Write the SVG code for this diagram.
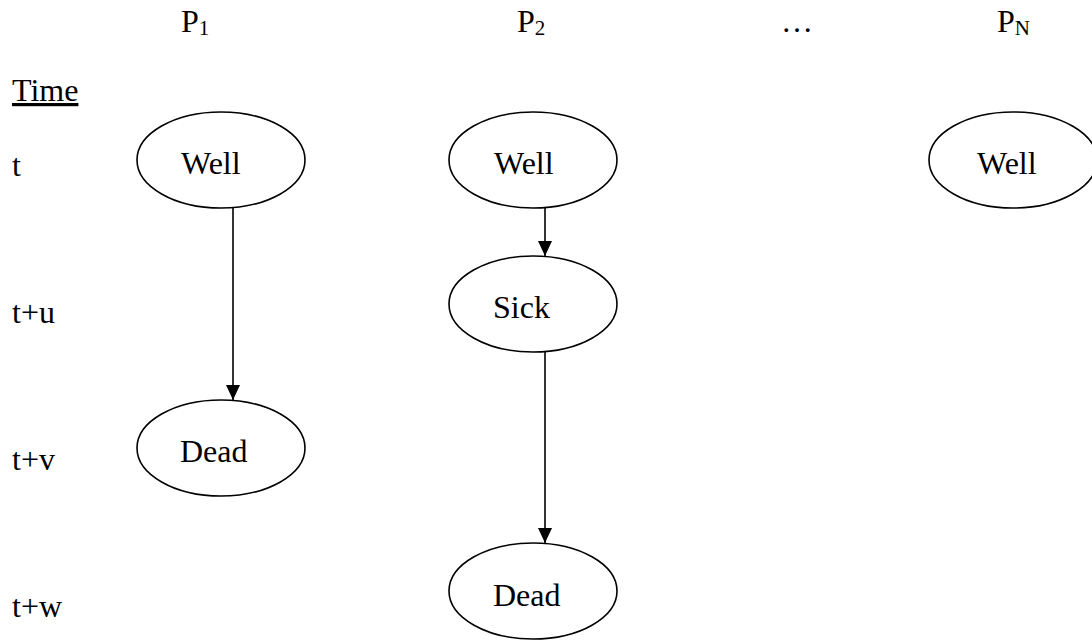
<svg xmlns="http://www.w3.org/2000/svg" width="1092" height="641" viewBox="0 0 1092 641">
  <style>
    text { font-family: "Liberation Serif", "Times New Roman", serif; font-size: 32px; fill: #000; }
    .sub { font-size: 21px; }
    .state { fill: #fff; stroke: #000; stroke-width: 1.6; }
    .edge { stroke: #000; stroke-width: 1.6; fill: none; marker-end: url(#arrow); }
  </style>
  <defs>
    <!-- solid triangular arrowhead, tip at the end of the line -->
    <marker id="arrow" markerUnits="userSpaceOnUse" markerWidth="15" markerHeight="14" refX="15" refY="7" orient="auto" viewBox="0 0 15 14">
      <path d="M0,0 L15,7 L0,14 Z" fill="#000"/>
    </marker>
  </defs>

  <!-- column headers -->
  <g id="headers">
    <text x="181" y="32">P<tspan class="sub" dy="3">1</tspan></text>
    <text x="517" y="32">P<tspan class="sub" dy="3">2</tspan></text>
    <text x="781" y="32">…</text>
    <text x="997" y="32">P<tspan class="sub" dy="3">N</tspan></text>
  </g>

  <!-- time axis labels -->
  <g id="time-axis">
    <text x="12" y="101" text-decoration="underline">Time</text>
    <text x="12" y="176">t</text>
    <text x="12" y="323">t+u</text>
    <text x="12" y="470">t+v</text>
    <text x="12" y="617">t+w</text>
  </g>

  <!-- connectors -->
  <g id="connectors">
    <line class="edge" x1="233" y1="208" x2="233" y2="400"/>
    <line class="edge" x1="545" y1="208" x2="545" y2="256"/>
    <line class="edge" x1="545" y1="352" x2="545" y2="543"/>
  </g>

  <g id="p1-well">
    <ellipse class="state" cx="221" cy="160" rx="84" ry="48"/>
    <text x="181" y="174">Well</text>
  </g>
  <g id="p1-dead">
    <ellipse class="state" cx="221" cy="448" rx="84" ry="48"/>
    <text x="180" y="462">Dead</text>
  </g>
  <g id="p2-well">
    <ellipse class="state" cx="533" cy="160" rx="84" ry="48"/>
    <text x="494" y="174">Well</text>
  </g>
  <g id="p2-sick">
    <ellipse class="state" cx="533" cy="304" rx="84" ry="48"/>
    <text x="493" y="318">Sick</text>
  </g>
  <g id="p2-dead">
    <ellipse class="state" cx="533" cy="591" rx="84" ry="48"/>
    <text x="493" y="606">Dead</text>
  </g>
  <g id="pn-well">
    <ellipse class="state" cx="1013" cy="160" rx="84" ry="48"/>
    <text x="977" y="174">Well</text>
  </g>
</svg>
